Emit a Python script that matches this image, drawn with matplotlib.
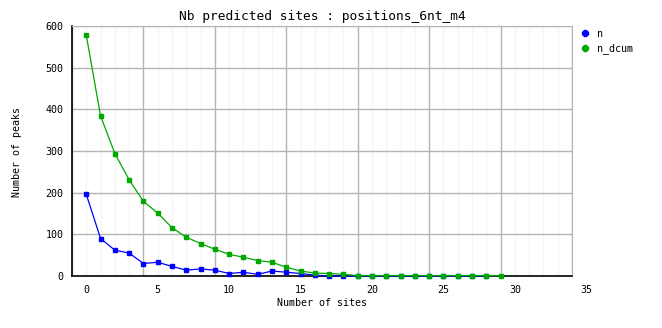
import numpy as np
import matplotlib.pyplot as plt
import matplotlib.transforms as mtransforms

# values
sites_n = list(range(0, 29))
n = [196, 90, 62, 55, 30, 33, 23, 14, 17, 14, 6, 9, 4, 12, 9, 6, 2,
     0, 0, 0, 0, 0, 0, 0, 0, 0, 0, 0, 0]
sites_dcum = list(range(0, 30))
n_dcum = [578, 384, 294, 231, 179, 151, 116, 93, 78, 64, 52, 45, 37, 33, 21, 12, 7,
          6, 4, 1, 1, 1, 1, 1, 1, 1, 1, 1, 1, 1]
x_labels = [0, 5, 10, 15, 20, 25, 30, 35]
y_ticks = [0, 100, 200, 300, 400, 500, 600]

blue = '#0000ff'
green = '#00a800'
mono = 'DejaVu Sans Mono'

fig = plt.figure(figsize=(6.62, 3.28), dpi=100)
ax = fig.add_axes([72 / 662, 52 / 328, 500 / 662, 250 / 328])

ax.set_xlim(-1, 34)
ax.set_ylim(0, 600)

# grid lines sit one unit left of the labels, like the original
ax.set_xticks(np.arange(-1, 35, 5))
ax.set_xticks(np.arange(-1, 35, 1), minor=True)
ax.set_yticks(y_ticks)
ax.grid(which='major', color='#b4b4b4', linewidth=1)
ax.grid(which='minor', axis='x', color='#f3f3f3', linewidth=0.8)
ax.set_axisbelow(True)
ax.tick_params(which='both', length=0)
ax.set_xticklabels([])
ax.set_yticklabels([str(v) for v in y_ticks], fontfamily=mono, fontsize=7.2)
ax.tick_params(axis='y', pad=6)

trans = mtransforms.blended_transform_factory(ax.transData, ax.transAxes)
for v in x_labels:
    ax.text(v, -0.035, str(v), transform=trans, ha='center', va='top',
            fontfamily=mono, fontsize=7.2, clip_on=False)

for side in ['top', 'right']:
    ax.spines[side].set_color('#b4b4b4')
for side in ['left', 'bottom']:
    ax.spines[side].set_color('black')
    ax.spines[side].set_linewidth(1.2)

ax.plot(sites_n, n, color=blue, linewidth=0.9, marker='s', markersize=2.2,
        label='n', clip_on=False, zorder=3)
ax.plot(sites_dcum, n_dcum, color=green, linewidth=0.9, marker='s', markersize=2.2,
        label='n_dcum', clip_on=False, zorder=3)

ax.set_xlabel('Number of sites', fontfamily=mono, fontsize=7.2, labelpad=12)
fig.text(17 / 662, (328 - 152) / 328, 'Number of peaks', rotation=90,
         ha='center', va='center', fontfamily=mono, fontsize=7.2)
ax.set_title('Nb predicted sites : positions_6nt_m4', fontfamily=mono, fontsize=9.3, pad=4)

leg = ax.legend(loc='upper left', bbox_to_anchor=(1.01, 1.005), frameon=False,
                prop={'family': mono, 'size': 7.2}, handlelength=0.8,
                handletextpad=0.8, labelspacing=0.45, borderaxespad=0)
for h in leg.legend_handles:
    h.set_linestyle('none')
    h.set_marker('8')
    h.set_markersize(4.5)

fig.savefig('out.png', dpi=100)
